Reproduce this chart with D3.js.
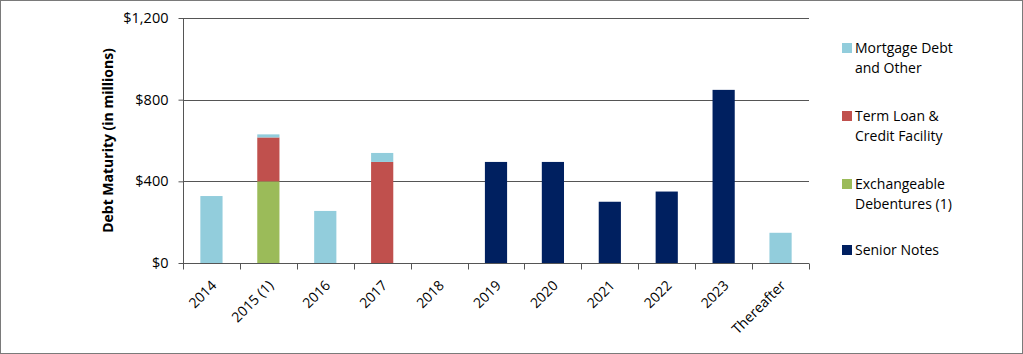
<!DOCTYPE html>
<html>
<head>
<meta charset="utf-8">
<script src="https://cdn.jsdelivr.net/npm/d3@7"></script>
<style>
  body { margin: 0; background: #fff; }
  svg { display: block; }
  text { font-family: "Open Sans", "Liberation Sans", sans-serif; fill: #000; }
</style>
</head>
<body>
<svg></svg>
<script>
// Datos
var categories = ['2014', '2015 (1)', '2016', '2017', '2018', '2019', '2020', '2021', '2022', '2023', 'Thereafter'];
var exchangeable = [0, 400, 0, 0, 0, 0, 0, 0, 0, 0, 0];
var termLoan = [0, 215, 0, 495, 0, 0, 0, 0, 0, 0, 0];
var mortgage = [328, 15, 255, 44, 0, 0, 0, 0, 0, 0, 148];
var seniorNotes = [0, 0, 0, 0, 0, 495, 495, 300, 350, 848, 0];
var yTicks = [0, 400, 800, 1200];

var seriesNames = ['Mortgage Debt|and Other', 'Term Loan &|Credit Facility', 'Exchangeable|Debentures (1)', 'Senior Notes'];
var colors = {
    exchangeable: '#9bbb59',
    termLoan: '#c0504d',
    mortgage: '#92cddc',
    seniorNotes: '#002060'
};

var w = 1023,
    h = 354,
    mLeft = 183,
    mRight = 809,
    mTop = 18,
    mBottom = 263;

var svg = d3.select('svg')
    .attr('width', w)
    .attr('height', h);

// marco
svg.append('rect')
    .attr('x', 0.5).attr('y', 0.5)
    .attr('width', w - 1).attr('height', h - 1)
    .attr('fill', '#fff')
    .attr('stroke', '#7a7a7a');

var xScale = d3.scaleBand()
    .domain(categories)
    .range([mLeft, mRight])
    .paddingInner(0.61)
    .paddingOuter(0.305);
var yScale = d3.scaleLinear()
    .domain([0, 1200])
    .range([mBottom, mTop]);

// lineas de rejilla
svg.selectAll('.grid')
    .data(yTicks.filter(function(d) { return d > 0; }))
    .enter()
    .append('line')
    .attr('x1', mLeft).attr('x2', mRight)
    .attr('y1', function(d) { return Math.round(yScale(d)) + 0.5; })
    .attr('y2', function(d) { return Math.round(yScale(d)) + 0.5; })
    .attr('stroke', '#555');

// barras apiladas
var rows = categories.map(function(c, i) {
    return {
        cat: c,
        exchangeable: exchangeable[i],
        termLoan: termLoan[i],
        mortgage: mortgage[i],
        seniorNotes: seniorNotes[i]
    };
});
var keys = ['exchangeable', 'termLoan', 'seniorNotes', 'mortgage'];
var stacked = d3.stack().keys(keys)(rows);

svg.selectAll('.serie')
    .data(stacked)
    .enter()
    .append('g')
    .attr('fill', function(d) { return colors[d.key]; })
    .selectAll('rect')
    .data(function(d) { return d; })
    .enter()
    .append('rect')
    .attr('x', function(d) { return xScale(d.data.cat); })
    .attr('y', function(d) { return yScale(d[1]); })
    .attr('width', xScale.bandwidth())
    .attr('height', function(d) { return yScale(d[0]) - yScale(d[1]); });

// ejes
var yAxis = d3.axisLeft(yScale)
    .tickValues(yTicks)
    .tickSize(5)
    .tickFormat(function(d) { return '$' + d3.format(',')(d); });
var gy = svg.append('g')
    .attr('transform', 'translate(' + (mLeft + 0.5) + ',0)')
    .call(yAxis);
gy.select('.domain').attr('stroke', '#555').attr('d', 'M0,' + mTop + 'V' + mBottom);
gy.selectAll('.tick line').attr('stroke', '#555');
gy.selectAll('.tick text')
    .attr('x', -15)
    .style('font-size', '14.5px')
    .style('font-family', '"Open Sans", sans-serif')
    .attr('fill', '#000');

var bandStep = xScale.step();
var gx = svg.append('g')
    .attr('transform', 'translate(0,' + (mBottom + 0.5) + ')');
gx.append('line')
    .attr('x1', mLeft).attr('x2', mRight)
    .attr('stroke', '#555');
gx.selectAll('.xtick')
    .data(d3.range(categories.length + 1))
    .enter()
    .append('line')
    .attr('x1', function(i) { return Math.round(mLeft + i * bandStep) + 0.5; })
    .attr('x2', function(i) { return Math.round(mLeft + i * bandStep) + 0.5; })
    .attr('y1', 0).attr('y2', 6)
    .attr('stroke', '#555');
gx.selectAll('.xlabel')
    .data(categories)
    .enter()
    .append('text')
    .attr('transform', function(d) {
        return 'translate(' + (xScale(d) + xScale.bandwidth() / 2 - 1) + ',16) rotate(-45)';
    })
    .attr('text-anchor', 'end')
    .attr('dy', '0.7em')
    .style('font-size', '14px')
    .text(function(d) { return d; });

// titulo eje y
svg.append('text')
    .attr('transform', 'translate(113,' + ((mTop + mBottom) / 2) + ') rotate(-90)')
    .attr('text-anchor', 'middle')
    .style('font-size', '14px')
    .style('font-weight', 'bold')
    .text('Debt Maturity (in millions)');

// leyenda
var legendY = [48, 116, 184, 250];
var legendColors = [colors.mortgage, colors.termLoan, colors.exchangeable, colors.seniorNotes];
var legend = svg.selectAll('.legend')
    .data(seriesNames)
    .enter()
    .append('g')
    .attr('transform', function(d, i) { return 'translate(842,' + legendY[i] + ')'; });
legend.append('rect')
    .attr('x', 0).attr('y', -5)
    .attr('width', 10).attr('height', 10)
    .attr('fill', function(d, i) { return legendColors[i]; });
legend.append('text')
    .attr('x', 13)
    .attr('y', 0)
    .style('font-size', '14px')
    .selectAll('tspan')
    .data(function(d) { return d.split('|'); })
    .enter()
    .append('tspan')
    .attr('x', 13)
    .attr('dy', function(d, i) { return i === 0 ? '0.35em' : '1.4em'; })
    .text(function(d) { return d; });
</script>
</body>
</html>
